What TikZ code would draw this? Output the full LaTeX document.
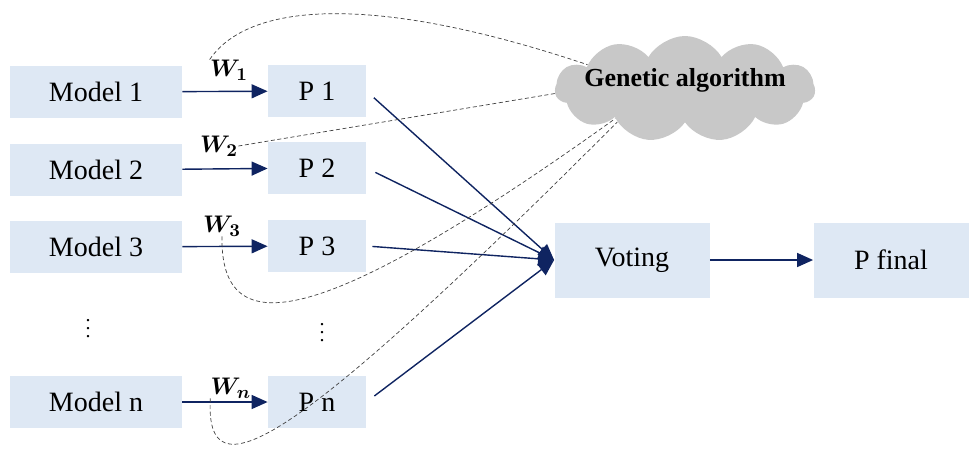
\documentclass[tikz,border=0pt]{standalone}
\usepackage{fontspec}
\setmainfont{LiberationSerif}[Extension=.ttf,UprightFont=*-Regular,BoldFont=*-Bold,ItalicFont=*-Italic,BoldItalicFont=*-BoldItalic]
\usepackage[]{amsmath}
\usepackage[]{bm}
\usepackage[]{tikz}
\usetikzlibrary{positioning,arrows.meta,shapes.symbols}
\definecolor{boxblue}{HTML}{DEE8F4}
\definecolor{navyline}{HTML}{0F2461}
\definecolor{cloudgray}{HTML}{C8C8C8}
\tikzset{modelbox/.style={fill=boxblue,minimum width=86pt,minimum height=26pt,inner sep=0pt,font=\rmfamily\fontsize{14}{16}\selectfont},
  pbox/.style={modelbox,minimum width=49pt},
  bigbox/.style={modelbox,minimum width=77.5pt,minimum height=37.5pt},
  navyarrow/.style={navyline,line width=0.7pt,-{Triangle[length=8pt,width=7pt]}},
  gadash/.style={black!75,line width=0.35pt,dash pattern=on 2pt off 1.3pt},
  wlabel/.style={inner sep=0pt,font=\fontsize{13}{15}\selectfont}}

\begin{document}
\begin{tikzpicture}[x=0.5pt,y=-0.5pt] % 1 unit = 1 px of the drawing
            \useasboundingbox (0,0) rectangle (969,451);
            % 模型和预测
            \node[modelbox] (m1) at (96,92) {Model 1};
            \node[modelbox] (m2) at (96,170) {Model 2};
            \node[modelbox] (m3) at (96,247) {Model 3};
            \node[modelbox] (mn) at (96,402) {Model n};
            \node[pbox] (p1) at (317,91) {P 1};
            \node[pbox] (p2) at (317,168) {P 2};
            \node[pbox] (p3) at (317,246) {P 3};
            \node[pbox] (pn) at (317,402) {P n};
            \node (mdots) at (88,323) {$\vdots$};
            \node (pdots) at (322,327) {$\vdots$};
            \node[bigbox] (vote) at (632,260) {Voting};
            \node[bigbox] (final) at (891,260) {P final};
            \node[cloud,cloud puffs=11,cloud puff arc=120,aspect=2.6,fill=cloudgray,inner sep=0pt,
                  minimum width=130pt,minimum height=53pt] (ga) at (685,89) {};
            \node[font=\rmfamily\fontsize{13}{15}\selectfont\bfseries] (gatext) at (685,80) {Genetic algorithm};
            % 权重
            \node[wlabel] (w1) at (229,70) {$\bm{W_1}$};
            \node[wlabel] (w2) at (219,146) {$\bm{W_2}$};
            \node[wlabel] (w3) at (222,226) {$\bm{W_3}$};
            \node[wlabel] (wn) at (231,388) {$\bm{W_n}$};
            \draw[navyarrow] (m1) -- (p1);
            \draw[navyarrow] (m2) -- (p2);
            \draw[navyarrow] (m3) -- (p3);
            \draw[navyarrow] (mn) -- (pn);
            \draw[navyarrow,shorten <=5pt] (p1.east) -- (vote.west);
            \draw[navyarrow,shorten <=5pt] (p2.east) -- (vote.west);
            \draw[navyarrow,shorten <=3pt] (p3.east) -- (vote.west);
            \draw[navyarrow,shorten <=5pt] (pn.east) -- (vote.west);
            \draw[navyarrow] (vote) -- (final);
            % 遗传算法优化权重
            \draw[gadash] (w1.north west) .. controls (250,0) and (380,-5) .. (ga.166);
            \draw[gadash] (w2.east) -- (ga.182);
            \draw[gadash] (w3.south) .. controls (220,345) and (320,330) .. (ga.203);
            \draw[gadash] (wn.south west) .. controls (205,495) and (285,455) .. (ga.206);
        \end{tikzpicture}
\end{document}
